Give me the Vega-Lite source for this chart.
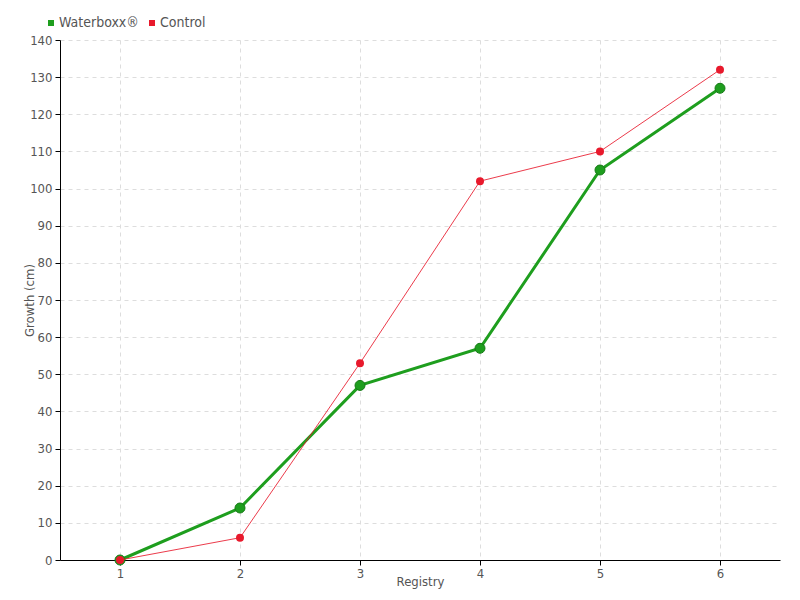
{
  "$schema": "https://vega.github.io/schema/vega-lite/v6.json",
  "width": 720,
  "height": 520,
  "autosize": {"type": "none"},
  "padding": {"left": 60, "top": 40, "right": 20, "bottom": 40},
  "background": "white",
  "config": {
    "font": "DejaVu Sans Condensed, Roboto, sans-serif",
    "view": {"stroke": null},
    "axis": {
      "labelFont": "DejaVu Sans Condensed, Roboto, sans-serif",
      "labelFontSize": 13,
      "labelColor": "#555555",
      "titleFont": "DejaVu Sans Condensed, Roboto, sans-serif",
      "titleFontSize": 13,
      "titleFontWeight": "normal",
      "titleColor": "#555555",
      "domainColor": "#000000",
      "domainWidth": 1,
      "tickColor": "#000000",
      "tickSize": 5,
      "gridColor": "#dddddd",
      "gridDash": [4, 4],
      "gridWidth": 1
    }
  },
  "data": {
    "values": [
      {"registry": 1, "growth": 0, "series": "Waterboxx®"},
      {"registry": 2, "growth": 14, "series": "Waterboxx®"},
      {"registry": 3, "growth": 47, "series": "Waterboxx®"},
      {"registry": 4, "growth": 57, "series": "Waterboxx®"},
      {"registry": 5, "growth": 105, "series": "Waterboxx®"},
      {"registry": 6, "growth": 127, "series": "Waterboxx®"},
      {"registry": 1, "growth": 0, "series": "Control"},
      {"registry": 2, "growth": 6, "series": "Control"},
      {"registry": 3, "growth": 53, "series": "Control"},
      {"registry": 4, "growth": 102, "series": "Control"},
      {"registry": 5, "growth": 110, "series": "Control"},
      {"registry": 6, "growth": 132, "series": "Control"}
    ]
  },
  "encoding": {
    "x": {
      "field": "registry",
      "type": "quantitative",
      "title": "Registry",
      "scale": {"domain": [0.5, 6.5], "nice": false, "zero": false},
      "axis": {"values": [1, 2, 3, 4, 5, 6], "titlePadding": -5, "labelPadding": 2}
    },
    "y": {
      "field": "growth",
      "type": "quantitative",
      "title": "Growth (cm)",
      "scale": {"domain": [0, 140], "nice": false},
      "axis": {"values": [0, 10, 20, 30, 40, 50, 60, 70, 80, 90, 100, 110, 120, 130, 140], "titlePadding": -7, "labelPadding": 3}
    },
    "color": {
      "field": "series",
      "type": "nominal",
      "scale": {"domain": ["Waterboxx®", "Control"], "range": ["#1e9e1e", "#e8192c"]},
      "legend": {
        "title": null,
        "orient": "none",
        "legendX": -16,
        "legendY": -24,
        "direction": "horizontal",
        "symbolType": "square",
        "symbolSize": 36,
        "symbolOpacity": 1,
        "symbolStrokeWidth": 0,
        "labelFont": "DejaVu Sans Condensed, Roboto, sans-serif",
        "labelFontSize": 14,
        "labelColor": "#555555",
        "labelOffset": 1,
        "columnPadding": 6
      }
    }
  },
  "layer": [
    {
      "transform": [{"filter": "datum.series === 'Waterboxx®'"}],
      "mark": {"type": "line", "strokeWidth": 3}
    },
    {
      "transform": [{"filter": "datum.series === 'Waterboxx®'"}],
      "mark": {"type": "point", "filled": true, "size": 100, "opacity": 1, "stroke": "#167a16", "strokeWidth": 1}
    },
    {
      "transform": [{"filter": "datum.series === 'Control'"}],
      "mark": {"type": "line", "strokeWidth": 1, "opacity": 0.85}
    },
    {
      "transform": [{"filter": "datum.series === 'Control'"}],
      "mark": {"type": "point", "filled": true, "size": 64, "opacity": 1}
    }
  ]
}
